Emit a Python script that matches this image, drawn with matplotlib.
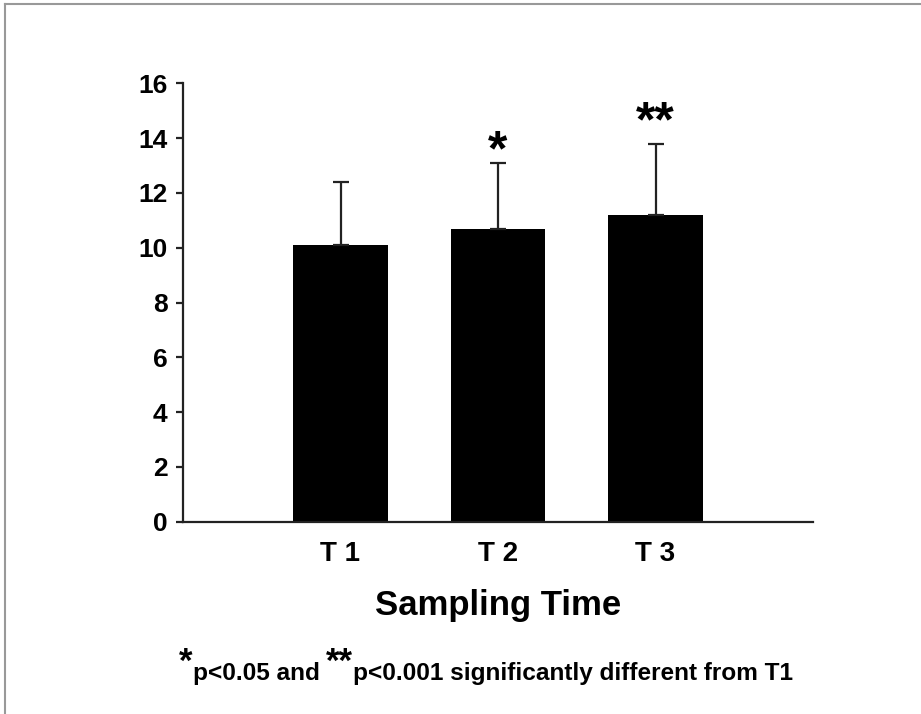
import matplotlib
matplotlib.use("Agg")
import matplotlib.pyplot as plt
from matplotlib.lines import Line2D

categories = ["T 1", "T 2", "T 3"]
means = [10.1, 10.7, 11.2]
upper_err = [2.3, 2.4, 2.6]
sig_marks = ["", "*", "**"]
yticks = [0, 2, 4, 6, 8, 10, 12, 14, 16]

# style: vertical offset (points) of significance marks' baseline relative to error top
mark_offsets_pt = [0, -1.5, 5.5]

plt.rcParams['font.family'] = ['Liberation Sans', 'DejaVu Sans']
plt.rcParams['font.weight'] = 'bold'

fig = plt.figure(figsize=(9.21, 7.14), dpi=100)
ax = fig.add_axes([183/921, 1-521.7/714, (813-183)/921, (521.7-83.3)/714])

x = [1, 2, 3]
ax.bar(x, means, width=0.6, color='black', zorder=2)
ax.errorbar(x, means, yerr=[[0]*3, upper_err], fmt='none', ecolor='#222222',
            elinewidth=1.6, capsize=6, capthick=1.6, zorder=3)
for xi, m, e, s, off in zip(x, means, upper_err, sig_marks, mark_offsets_pt):
    if s:
        ax.annotate(s, xy=(xi, m + e), xytext=(0, off), textcoords='offset points',
                    ha='center', va='baseline', fontsize=36, fontweight='bold')

ax.set_xlim(0, 4)
ax.set_ylim(0, 16)
ax.set_yticks(yticks)
ax.set_xticks(x)
ax.set_xticklabels(categories)
for sp in ['top', 'right']:
    ax.spines[sp].set_visible(False)
for sp in ['left', 'bottom']:
    ax.spines[sp].set_linewidth(1.6)
    ax.spines[sp].set_color('#222222')
ax.tick_params(axis='y', length=5, width=1.6, pad=6, labelsize=19, color='#222222')
ax.tick_params(axis='x', length=0, pad=14, labelsize=20)
for lab in ax.get_xticklabels() + ax.get_yticklabels():
    lab.set_fontweight('bold')

fig.text(498/921, 1-605/714, "Sampling Time", ha='center', va='center',
         fontsize=25, fontweight='bold')

# footnote built from pieces
renderer = fig.canvas.get_renderer()
pieces = [("*", 25, 8), ("p<0.05 and ", 17.6, 0), ("**", 25, 8),
          ("p<0.001 significantly different from T1", 17.6, 0)]
base_y = 1 - 680/714
xpos = 179/921
for txt, fs, dy in pieces:
    t = fig.text(xpos, base_y + dy/714, txt, ha='left', va='baseline',
                 fontsize=fs, fontweight='bold')
    bb = t.get_window_extent(renderer=renderer)
    xpos += bb.width / 921

# frame lines (top and left)
fig.add_artist(Line2D([5/921, 1], [1-4/714, 1-4/714], transform=fig.transFigure,
                      color='#999999', lw=1.5))
fig.add_artist(Line2D([5/921, 5/921], [0, 1-4/714], transform=fig.transFigure,
                      color='#999999', lw=1.5))

fig.savefig("out.png", dpi=100)
